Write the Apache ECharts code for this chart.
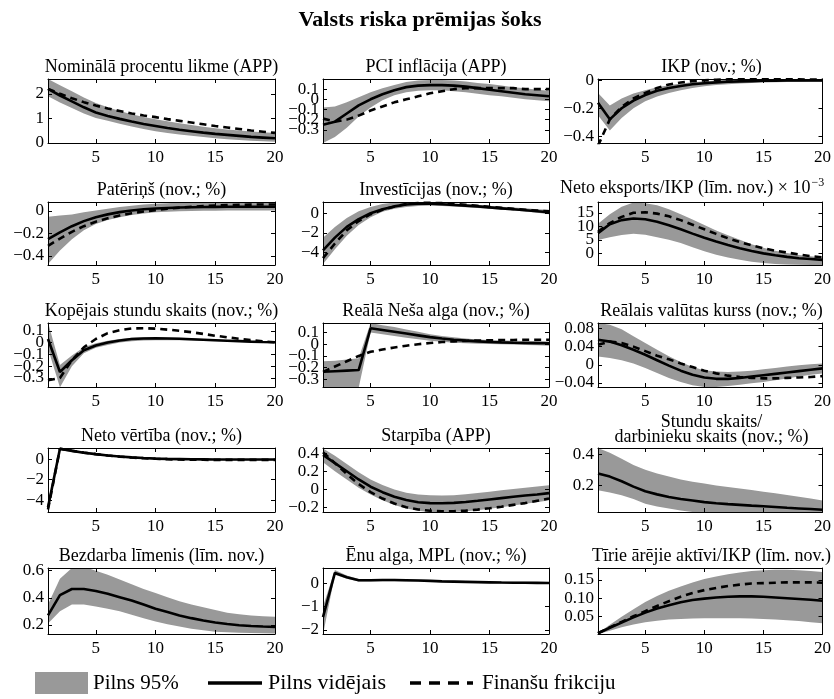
<!DOCTYPE html>
<html><head><meta charset="utf-8">
<script src="https://cdn.jsdelivr.net/npm/echarts@6/dist/echarts.min.js"></script>
<style>html,body{margin:0;padding:0;background:#fff}#c{width:834px;height:699px}</style>
</head><body><div id="c"></div>
<script>
// ---------- DATA ----------
const xs = [1,2,3,4,5,6,7,8,9,10,11,12,13,14,15,16,17,18,19,20];
const xTicks = [5,10,15,20];

// 1 Nominālā procentu likme
const p1Solid = [2.2,1.93,1.69,1.45,1.24,1.1,0.98,0.87,0.77,0.69,0.61,0.54,0.48,0.42,0.37,0.33,0.29,0.25,0.22,0.19];
const p1Dash  = [2.2,2.0,1.82,1.66,1.52,1.4,1.3,1.2,1.12,1.05,0.97,0.9,0.83,0.76,0.69,0.63,0.57,0.51,0.46,0.41];
const p1Hi    = [2.6,2.35,2.1,1.85,1.62,1.45,1.3,1.17,1.06,0.96,0.88,0.8,0.73,0.66,0.6,0.55,0.51,0.47,0.44,0.41];
const p1Lo    = [1.9,1.65,1.42,1.2,1.02,0.9,0.78,0.67,0.57,0.48,0.41,0.35,0.29,0.24,0.19,0.15,0.12,0.09,0.07,0.05];
const p1Ticks = [0,1,2];
// 2 PCI inflācija
const p2Solid = [-0.25,-0.22,-0.14,-0.06,0.0,0.05,0.09,0.12,0.135,0.14,0.14,0.135,0.125,0.11,0.095,0.08,0.065,0.05,0.04,0.03];
const p2Dash  = [-0.19,-0.22,-0.2,-0.16,-0.11,-0.07,-0.03,0.0,0.03,0.06,0.08,0.1,0.11,0.11,0.11,0.11,0.11,0.1,0.1,0.1];
const p2Hi    = [-0.08,-0.07,-0.03,0.02,0.07,0.11,0.14,0.17,0.185,0.19,0.19,0.185,0.175,0.16,0.15,0.135,0.12,0.11,0.095,0.085];
const p2Lo    = [-0.43,-0.37,-0.28,-0.17,-0.08,-0.01,0.04,0.07,0.085,0.09,0.09,0.08,0.07,0.055,0.04,0.03,0.015,0.0,-0.01,-0.02];
const p2Ticks = [-0.3,-0.2,-0.1,0,0.1];
// 3 IKP
const p3Solid = [-0.16,-0.28,-0.2,-0.145,-0.105,-0.075,-0.055,-0.04,-0.028,-0.02,-0.014,-0.01,-0.007,-0.005,-0.003,-0.002,-0.001,0,0,0];
const p3Dash  = [-0.47,-0.28,-0.19,-0.13,-0.09,-0.055,-0.03,-0.015,-0.005,0.0,0.005,0.007,0.008,0.008,0.008,0.008,0.007,0.007,0.006,0.006];
const p3Hi    = [-0.09,-0.18,-0.13,-0.095,-0.07,-0.05,-0.035,-0.023,-0.013,-0.006,-0.001,0.002,0.004,0.005,0.006,0.006,0.006,0.006,0.005,0.005];
const p3Lo    = [-0.25,-0.36,-0.27,-0.2,-0.15,-0.115,-0.09,-0.07,-0.055,-0.042,-0.033,-0.027,-0.022,-0.018,-0.015,-0.013,-0.012,-0.011,-0.01,-0.01];
const p3Ticks = [-0.4,-0.2,0];
// 4 Patēriņš
const p4Solid = [-0.25,-0.19,-0.135,-0.09,-0.055,-0.03,-0.01,0.005,0.015,0.022,0.027,0.031,0.034,0.036,0.037,0.038,0.038,0.038,0.038,0.038];
const p4Dash  = [-0.31,-0.245,-0.185,-0.135,-0.095,-0.065,-0.04,-0.02,-0.005,0.008,0.02,0.03,0.038,0.044,0.049,0.052,0.055,0.057,0.058,0.058];
const p4Hi    = [-0.05,-0.04,-0.03,-0.01,0.005,0.02,0.035,0.047,0.057,0.065,0.07,0.075,0.078,0.08,0.08,0.08,0.078,0.076,0.074,0.072];
const p4Lo    = [-0.47,-0.35,-0.25,-0.17,-0.115,-0.08,-0.055,-0.035,-0.022,-0.012,-0.006,-0.002,0.0,0.002,0.003,0.004,0.005,0.005,0.005,0.005];
const p4Ticks = [-0.4,-0.2,0];
// 5 Investīcijas
const p5Solid = [-3.8,-2.5,-1.4,-0.6,0.0,0.4,0.7,0.9,0.97,0.97,0.92,0.85,0.78,0.7,0.6,0.5,0.4,0.3,0.2,0.1];
const p5Dash  = [-4.6,-3.1,-1.75,-0.8,-0.1,0.35,0.7,0.95,1.05,1.07,1.03,0.95,0.86,0.76,0.65,0.55,0.45,0.35,0.27,0.2];
const p5Hi    = [-2.5,-1.4,-0.5,0.2,0.65,0.95,1.1,1.15,1.15,1.12,1.07,1.0,0.92,0.84,0.75,0.66,0.58,0.5,0.42,0.35];
const p5Lo    = [-5.2,-3.7,-2.3,-1.2,-0.4,0.15,0.45,0.65,0.75,0.78,0.75,0.7,0.62,0.54,0.45,0.36,0.27,0.18,0.05,-0.1];
const p5Ticks = [-4,-2,0];
// 6 Neto eksports/IKP
const p6Solid = [7.5,10.8,12.3,12.9,12.6,11.7,10.4,8.9,7.3,5.8,4.4,3.1,1.9,0.9,0.0,-0.7,-1.3,-1.8,-2.1,-2.4];
const p6Dash  = [8,11.2,13.5,15.0,15.2,14.7,13.7,12.3,10.6,8.9,7.2,5.6,4.2,3.0,1.9,1.0,0.3,-0.4,-1.0,-1.5];
const p6Hi    = [11,14.5,17.2,18.8,18.5,17.8,16.3,14.5,12.5,10.5,8.5,6.7,5.0,3.4,2.1,1.0,0.1,-0.6,-1.1,-1.5];
const p6Lo    = [4.9,6.0,6.8,7.3,6.9,6.0,5.0,3.8,2.3,0.8,-0.5,-1.5,-2.4,-3.1,-3.6,-3.9,-4.1,-4.2,-4.3,-4.3];
const p6Ticks = [0,5,10,15];
// 7 Kopējais stundu skaits
const p7Solid = [0.03,-0.25,-0.15,-0.065,-0.025,0.0,0.018,0.03,0.035,0.036,0.035,0.032,0.028,0.024,0.02,0.016,0.012,0.008,0.005,0.003];
const p7Dash  = [-0.32,-0.3,-0.15,-0.04,0.03,0.08,0.105,0.12,0.122,0.118,0.11,0.1,0.088,0.073,0.058,0.045,0.032,0.02,0.01,0.003];
const p7Hi    = [0.17,-0.19,-0.11,-0.04,-0.005,0.015,0.03,0.04,0.045,0.046,0.044,0.04,0.036,0.031,0.026,0.021,0.016,0.012,0.008,0.005];
const p7Lo    = [-0.05,-0.38,-0.2,-0.09,-0.045,-0.02,0.0,0.012,0.018,0.02,0.02,0.019,0.017,0.014,0.011,0.008,0.005,0.002,0.0,-0.002];
const p7Ticks = [-0.3,-0.2,-0.1,0,0.1];
// 8 Reālā Neša alga
const p8Solid = [-0.235,-0.23,-0.225,-0.22,0.135,0.12,0.105,0.09,0.075,0.06,0.048,0.038,0.03,0.024,0.019,0.015,0.012,0.01,0.009,0.008];
const p8Dash  = [-0.235,-0.19,-0.145,-0.1,-0.065,-0.045,-0.028,-0.013,0.0,0.01,0.018,0.024,0.028,0.031,0.033,0.035,0.036,0.037,0.037,0.037];
const p8Hi    = [-0.145,-0.14,-0.13,-0.12,0.18,0.16,0.145,0.125,0.105,0.085,0.07,0.058,0.048,0.04,0.036,0.032,0.029,0.027,0.025,0.023];
const p8Lo    = [-0.37,-0.37,-0.37,-0.37,0.1,0.085,0.07,0.055,0.042,0.03,0.02,0.013,0.008,0.004,0.002,0.0,-0.003,-0.007,-0.01,-0.014];
const p8Ticks = [-0.3,-0.2,-0.1,0,0.1];
// 9 Reālais valūtas kurss
const p9Solid = [0.055,0.051,0.043,0.033,0.022,0.01,-0.002,-0.013,-0.022,-0.028,-0.031,-0.031,-0.029,-0.026,-0.023,-0.02,-0.017,-0.014,-0.011,-0.008];
const p9Dash  = [0.044,0.051,0.048,0.04,0.03,0.02,0.012,0.003,-0.005,-0.013,-0.019,-0.024,-0.027,-0.029,-0.03,-0.03,-0.029,-0.028,-0.027,-0.025];
const p9Hi    = [0.092,0.088,0.078,0.063,0.048,0.033,0.019,0.006,-0.005,-0.012,-0.015,-0.016,-0.015,-0.013,-0.01,-0.007,-0.004,-0.001,0.001,0.003];
const p9Lo    = [0.018,0.015,0.01,0.003,-0.007,-0.018,-0.029,-0.038,-0.045,-0.049,-0.049,-0.047,-0.044,-0.041,-0.038,-0.034,-0.03,-0.026,-0.022,-0.019];
const p9Ticks = [-0.04,0,0.04,0.08];
// 10 Neto vērtība
const p10Solid = [-4.7,1.0,0.8,0.62,0.48,0.35,0.25,0.17,0.1,0.05,0.02,0.0,-0.02,-0.03,-0.04,-0.04,-0.04,-0.04,-0.04,-0.04];
const p10Dash  = [-4.9,1.0,0.82,0.63,0.48,0.35,0.24,0.15,0.08,0.03,-0.01,-0.04,-0.06,-0.07,-0.08,-0.08,-0.08,-0.08,-0.08,-0.08];
const p10Hi    = [-4.3,1.08,0.9,0.72,0.57,0.44,0.33,0.24,0.17,0.12,0.08,0.06,0.04,0.03,0.02,0.02,0.02,0.02,0.02,0.02];
const p10Lo    = [-5.15,0.85,0.68,0.52,0.39,0.27,0.17,0.09,0.03,-0.02,-0.05,-0.07,-0.09,-0.1,-0.1,-0.11,-0.11,-0.11,-0.11,-0.11];
const p10Ticks = [-4,-2,0];
// 11 Starpība
const p11Solid = [0.38,0.29,0.2,0.11,0.03,-0.03,-0.08,-0.115,-0.14,-0.15,-0.152,-0.148,-0.138,-0.125,-0.11,-0.095,-0.08,-0.067,-0.055,-0.04];
const p11Dash  = [0.41,0.29,0.17,0.06,-0.03,-0.1,-0.155,-0.195,-0.22,-0.235,-0.24,-0.24,-0.233,-0.222,-0.207,-0.19,-0.17,-0.15,-0.125,-0.1];
const p11Hi    = [0.45,0.37,0.28,0.19,0.11,0.05,0.0,-0.035,-0.055,-0.065,-0.067,-0.063,-0.053,-0.04,-0.025,-0.01,0.005,0.018,0.032,0.045];
const p11Lo    = [0.3,0.2,0.11,0.02,-0.055,-0.12,-0.17,-0.21,-0.235,-0.248,-0.25,-0.248,-0.24,-0.228,-0.212,-0.195,-0.177,-0.158,-0.14,-0.12];
const p11Ticks = [-0.2,0,0.2,0.4];
// 12 Stundu skaits / darbinieku skaits
const p12Solid = [0.275,0.255,0.225,0.19,0.16,0.14,0.123,0.11,0.1,0.09,0.083,0.077,0.072,0.067,0.063,0.058,0.053,0.049,0.045,0.041];
const p12Hi    = [0.44,0.41,0.37,0.33,0.3,0.275,0.255,0.237,0.222,0.21,0.198,0.188,0.178,0.168,0.157,0.147,0.136,0.125,0.113,0.1];
const p12Lo    = [0.167,0.152,0.135,0.11,0.08,0.062,0.048,0.035,0.026,0.02,0.015,0.012,0.01,0.008,0.006,0.005,0.004,0.003,0.002,0.002];
const p12Ticks = [0.2,0.4];
// 13 Bezdarba līmenis
const p13Solid = [0.27,0.42,0.465,0.465,0.45,0.43,0.405,0.38,0.35,0.32,0.295,0.27,0.25,0.232,0.218,0.207,0.198,0.192,0.188,0.185];
const p13Hi    = [0.35,0.54,0.62,0.63,0.6,0.57,0.535,0.5,0.465,0.435,0.405,0.375,0.35,0.33,0.31,0.29,0.278,0.27,0.264,0.26];
const p13Lo    = [0.21,0.3,0.35,0.35,0.335,0.32,0.3,0.275,0.25,0.225,0.205,0.188,0.172,0.16,0.15,0.145,0.142,0.14,0.138,0.137];
const p13Ticks = [0.2,0.4,0.6];
// 14 Ēnu alga, MPL
const p14Solid = [-1.45,0.43,0.25,0.12,0.12,0.13,0.13,0.12,0.11,0.09,0.07,0.06,0.05,0.04,0.03,0.02,0.015,0.01,0.005,0.0];
const p14Hi    = [-1.0,0.55,0.32,0.17,0.16,0.17,0.17,0.16,0.15,0.13,0.11,0.1,0.09,0.08,0.07,0.06,0.055,0.05,0.045,0.04];
const p14Lo    = [-2.2,0.35,0.18,0.07,0.07,0.08,0.08,0.07,0.06,0.05,0.035,0.02,0.01,0.0,-0.01,-0.02,-0.025,-0.03,-0.035,-0.04];
const p14Ticks = [-2,-1,0];
// 15 Tīrie ārējie aktīvi/IKP
const p15Solid = [0.005,0.02,0.034,0.048,0.061,0.072,0.081,0.089,0.095,0.099,0.102,0.104,0.105,0.105,0.104,0.102,0.1,0.098,0.096,0.093];
const p15Dash  = [0.005,0.021,0.036,0.051,0.065,0.079,0.092,0.104,0.114,0.122,0.128,0.133,0.137,0.14,0.141,0.142,0.143,0.143,0.143,0.142];
const p15Hi    = [0.005,0.028,0.05,0.07,0.09,0.106,0.12,0.132,0.143,0.152,0.159,0.165,0.17,0.174,0.176,0.177,0.177,0.176,0.174,0.171];
const p15Lo    = [0.003,0.012,0.021,0.029,0.035,0.039,0.042,0.044,0.045,0.046,0.046,0.046,0.046,0.045,0.044,0.042,0.04,0.038,0.035,0.032];
const p15Ticks = [0.05,0.10,0.15];
const p15TickLabels = ['0.05','0.10','0.15'];

// ---------- PANELS ----------
const panels = [
 {title:'Nominālā procentu likme (APP)', s:p1Solid, d:p1Dash, lo:p1Lo, hi:p1Hi, min:0, max:2.6, t:p1Ticks},
 {title:'PCI inflācija (APP)', s:p2Solid, d:p2Dash, lo:p2Lo, hi:p2Hi, min:-0.43, max:0.2, t:p2Ticks},
 {title:'IKP (nov.; %)', s:p3Solid, d:p3Dash, lo:p3Lo, hi:p3Hi, min:-0.45, max:0.01, t:p3Ticks},
 {title:'Patēriņš (nov.; %)', s:p4Solid, d:p4Dash, lo:p4Lo, hi:p4Hi, min:-0.48, max:0.08, t:p4Ticks},
 {title:'Investīcijas (nov.; %)', s:p5Solid, d:p5Dash, lo:p5Lo, hi:p5Hi, min:-5.3, max:1.15, t:p5Ticks},
 {title:'{a|Neto eksports/IKP (līm. nov.) × 10}{b|−3}', rich:true, s:p6Solid, d:p6Dash, lo:p6Lo, hi:p6Hi, min:-4.3, max:19, t:p6Ticks},
 {title:'Kopējais stundu skaits (nov.; %)', s:p7Solid, d:p7Dash, lo:p7Lo, hi:p7Hi, min:-0.377, max:0.166, t:p7Ticks},
 {title:'Reālā Neša alga (nov.; %)', s:p8Solid, d:p8Dash, lo:p8Lo, hi:p8Hi, min:-0.364, max:0.18, t:p8Ticks},
 {title:'Reālais valūtas kurss (nov.; %)', s:p9Solid, d:p9Dash, lo:p9Lo, hi:p9Hi, min:-0.049, max:0.092, t:p9Ticks},
 {title:'Neto vērtība (nov.; %)', s:p10Solid, d:p10Dash, lo:p10Lo, hi:p10Hi, min:-5.15, max:1.08, t:p10Ticks},
 {title:'Starpība (APP)', s:p11Solid, d:p11Dash, lo:p11Lo, hi:p11Hi, min:-0.248, max:0.456, t:p11Ticks},
 {title:'Stundu skaits/\ndarbinieku skaits (nov.; %)', s:p12Solid, d:null, lo:p12Lo, hi:p12Hi, min:0.026, max:0.44, t:p12Ticks},
 {title:'Bezdarba līmenis (līm. nov.)', s:p13Solid, d:null, lo:p13Lo, hi:p13Hi, min:0.133, max:0.62, t:p13Ticks},
 {title:'Ēnu alga, MPL (nov.; %)', s:p14Solid, d:null, lo:p14Lo, hi:p14Hi, min:-2.17, max:0.64, t:p14Ticks},
 {title:'Tīrie ārējie aktīvi/IKP (līm. nov.)', s:p15Solid, d:p15Dash, lo:p15Lo, hi:p15Hi, min:0.003, max:0.182, t:p15Ticks, tl:p15TickLabels}
];

// ---------- LAYOUT ----------
const FONT = '"Liberation Serif", "Times New Roman", serif';
const cols = [{l:48,w:227},{l:323,w:226},{l:598,w:227}];
const rows = [{t:79,h:64},{t:202,h:63},{t:323,h:64},{t:448,h:64},{t:568,h:66}];
const BAND = '#999999';
const TFS = 18, LFS = 17;

const grid=[], xAxis=[], yAxis=[], series=[], graphic=[];
function fmtMinus(v){ return String(v).replace('-', '−'); }

panels.forEach((p,k)=>{
  const c = cols[k%3], r = rows[Math.floor(k/3)];
  grid.push({left:c.l, top:r.t, width:c.w, height:r.h, show:false, containLabel:false});
  const tick = (vals)=>({show:true, inside:true, length:4, interval:0, customValues:vals, lineStyle:{color:'#000', width:1}});
  const line = {show:true, onZero:false, lineStyle:{color:'#000', width:1}};
  const noLine = {show:false};
  xAxis.push({type:'value', gridIndex:k, position:'bottom', min:1, max:20, z:10, axisLine:line,
    axisTick:tick(xTicks),
    axisLabel:{customValues:xTicks, interval:0, hideOverlap:false, color:'#000', fontFamily:FONT, fontSize:LFS, margin:6},
    splitLine:{show:false}});
  xAxis.push({type:'value', gridIndex:k, position:'top', min:1, max:20, z:10, axisLine:line,
    axisTick:tick(xTicks), axisLabel:{show:false}, splitLine:{show:false}});
  const labs = p.tl;
  const fmt = (v)=>{ if(labs){ const i=p.t.findIndex(t=>Math.abs(t-v)<1e-9); if(i>=0) return labs[i]; } return fmtMinus(+(+v).toFixed(4)); };
  // two left axes, each carrying every other tick label, so that none are dropped as overlapping
  const evenT = p.t.filter((v,i)=>i%2===0), oddT = p.t.filter((v,i)=>i%2===1);
  yAxis.push({type:'value', gridIndex:k, position:'left', offset:0, min:p.min, max:p.max, z:10, axisLine:line,
    axisTick:tick(p.t),
    axisLabel:{customValues:evenT, interval:0, hideOverlap:false, color:'#000', fontFamily:FONT, fontSize:LFS, margin:4, formatter:fmt},
    splitLine:{show:false}});
  yAxis.push({type:'value', gridIndex:k, position:'left', offset:0, min:p.min, max:p.max, z:10, axisLine:noLine,
    axisTick:{show:false},
    axisLabel:{show: oddT.length>0, customValues:oddT.length?oddT:[p.min], interval:0, hideOverlap:false, color:'#000', fontFamily:FONT, fontSize:LFS, margin:4, formatter:fmt},
    splitLine:{show:false}});
  yAxis.push({type:'value', gridIndex:k, position:'right', min:p.min, max:p.max, z:10, axisLine:line,
    axisTick:tick(p.t), axisLabel:{show:false}, splitLine:{show:false}});

  const xi = 2*k, yi = 3*k;
  const lo = p.lo, hi = p.hi;
  series.push({type:'custom', xAxisIndex:xi, yAxisIndex:yi, data:[[1, p.min]], silent:true, z:1,
    renderItem:(params, api)=>{
      const pts = [];
      for (let i=0;i<xs.length;i++) pts.push(api.coord([xs[i], hi[i]]));
      for (let i=xs.length-1;i>=0;i--) pts.push(api.coord([xs[i], lo[i]]));
      const cs = params.coordSys;
      return {type:'polygon', shape:{points:pts}, style:{fill:BAND, stroke:null},
        clipPath:{type:'rect', shape:{x:cs.x, y:cs.y, width:cs.width, height:cs.height}}};
    }});
  if (p.d) series.push({type:'line', xAxisIndex:xi, yAxisIndex:yi, data: xs.map((x,i)=>[x, p.d[i]]),
    symbol:'none', lineStyle:{color:'#000', width:2.6, type:[7,5]}, silent:true, z:2, clip:true});
  series.push({type:'line', xAxisIndex:xi, yAxisIndex:yi, data: xs.map((x,i)=>[x, p.s[i]]),
    symbol:'none', lineStyle:{color:'#000', width:2.6}, silent:true, z:3, clip:true});

  // panel title
  const cx = c.l + c.w/2;
  const tfont = TFS+'px '+FONT;
  if (p.rich) {
    graphic.push({type:'text', x:560, y:r.t-14, style:{text:p.title, align:'left', verticalAlign:'middle', fill:'#000',
      rich:{a:{fontFamily:FONT, fontSize:TFS, fill:'#000', color:'#000'}, b:{fontFamily:FONT, fontSize:12, fill:'#000', color:'#000', padding:[0,0,10,1]}}}});
  } else if (p.title.indexOf('\n')>=0) {
    const ls = p.title.split('\n');
    graphic.push({type:'text', x:cx, y:r.t-26, style:{text:ls[0], align:'center', verticalAlign:'middle', fill:'#000', font:tfont}});
    graphic.push({type:'text', x:cx, y:r.t-11, style:{text:ls[1], align:'center', verticalAlign:'middle', fill:'#000', font:tfont}});
  } else {
    graphic.push({type:'text', x:cx, y:r.t-12, style:{text:p.title, align:'center', verticalAlign:'middle', fill:'#000', font:tfont}});
  }
});

// main title
graphic.push({type:'text', x:420, y:20, style:{text:'Valsts riska prēmijas šoks', align:'center', verticalAlign:'middle', fill:'#000', font:'bold 22px '+FONT}});
// legend
graphic.push({type:'rect', shape:{x:35, y:672, width:53, height:22}, style:{fill:BAND}});
graphic.push({type:'text', x:93, y:683, style:{text:'Pilns 95%', align:'left', verticalAlign:'middle', fill:'#000', font:'21px '+FONT}});
graphic.push({type:'line', shape:{x1:208, y1:683, x2:262, y2:683}, style:{stroke:'#000', lineWidth:3.5}});
graphic.push({type:'text', x:268, y:683, style:{text:'Pilns vidējais', align:'left', verticalAlign:'middle', fill:'#000', font:'22px '+FONT}});
graphic.push({type:'line', shape:{x1:410, y1:683, x2:473, y2:683}, style:{stroke:'#000', lineWidth:3.5, lineDash:[11,8]}});
graphic.push({type:'text', x:482, y:683, style:{text:'Finanšu frikciju', align:'left', verticalAlign:'middle', fill:'#000', font:'21px '+FONT}});

const chart = echarts.init(document.getElementById('c'), null, {renderer:'canvas'});
chart.setOption({animation:false, backgroundColor:'#fff', grid, xAxis, yAxis, series, graphic});
</script></body></html>
